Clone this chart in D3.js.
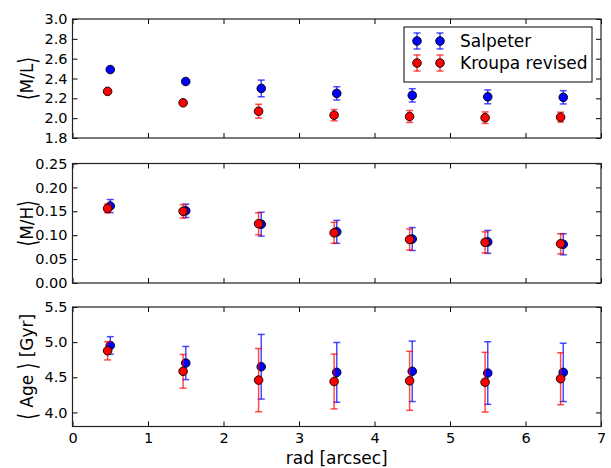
<!DOCTYPE html>
<html><head><meta charset="utf-8">
<script src="https://cdn.jsdelivr.net/npm/d3@7"></script>
<style>
body{margin:0;background:#fff;}
svg{display:block;font-family:"DejaVu Sans",sans-serif;}
</style></head><body>
<svg id="chart" width="611" height="468"></svg>
<script>
// ---- data ----
const radSal = [0.5, 1.5, 2.5, 3.5, 4.5, 5.5, 6.5];
const radKro = [0.465, 1.465, 2.465, 3.465, 4.465, 5.465, 6.465];

const mlSal    = [2.49, 2.37, 2.30, 2.25, 2.23, 2.215, 2.21];
const mlSalErr = [0.015, 0.02, 0.084, 0.067, 0.067, 0.07, 0.067];
const mlKro    = [2.27, 2.155, 2.07, 2.03, 2.017, 2.005, 2.01];
const mlKroErr = [0.01, 0.015, 0.07, 0.057, 0.06, 0.058, 0.05];

const mhSal    = [0.161, 0.151, 0.123, 0.107, 0.092, 0.086, 0.081];
const mhSalErr = [0.0136, 0.014, 0.025, 0.024, 0.024, 0.024, 0.022];
const mhKro    = [0.156, 0.150, 0.124, 0.105, 0.091, 0.085, 0.082];
const mhKroErr = [0.009, 0.014, 0.023, 0.022, 0.022, 0.022, 0.021];

const ageSal    = [4.953, 4.703, 4.65, 4.57, 4.585, 4.56, 4.57];
const ageSalErr = [0.125, 0.236, 0.46, 0.425, 0.43, 0.445, 0.415];
const ageKro    = [4.877, 4.585, 4.46, 4.44, 4.45, 4.43, 4.48];
const ageKroErr = [0.13, 0.24, 0.45, 0.39, 0.42, 0.425, 0.37];

const xTicks   = [0, 1, 2, 3, 4, 5, 6, 7];
const mlTicks  = [1.8, 2.0, 2.2, 2.4, 2.6, 2.8, 3.0];
const mhTicks  = [0.00, 0.05, 0.10, 0.15, 0.20, 0.25];
const ageTicks = [4.0, 4.5, 5.0, 5.5];

const seriesNames = ["Salpeter", "Kroupa revised"];
const seriesColors = ["#0000ff", "#ff0000"];

// ---- layout ----
const svg = d3.select("#chart");
const left = 72.5, right = 601;
const x = d3.scaleLinear().domain([0, 7]).range([left, right]);

const panels = [
  {top: 19, bottom: 138, domain: [1.8, 3.0], ticks: mlTicks, fmt: d3.format(".1f"),
   label: ["\u27E8", "M/L", "\u27E9"],
   series: [[radSal, mlSal, mlSalErr], [radKro, mlKro, mlKroErr]]},
  {top: 163.5, bottom: 283, domain: [0, 0.25], ticks: mhTicks, fmt: d3.format(".2f"),
   label: ["\u27E8", "M/H", "\u27E9"],
   series: [[radSal, mhSal, mhSalErr], [radKro, mhKro, mhKroErr]]},
  {top: 307, bottom: 426.5, domain: [3.8, 5.5], ticks: ageTicks, fmt: d3.format(".1f"),
   label: ["\u27E8", " Age ", "\u27E9", " [Gyr]"], xlabels: true,
   series: [[radSal, ageSal, ageSalErr], [radKro, ageKro, ageKroErr]]}
];

const tickLen = 5;

panels.forEach(p => {
  const y = d3.scaleLinear().domain(p.domain).range([p.bottom, p.top]);
  const g = svg.append("g");

  const ax = [
    g.append("g").attr("transform", `translate(0,${p.bottom})`)
      .call(d3.axisBottom(x).tickValues(xTicks).tickSizeInner(-tickLen).tickSizeOuter(0)
        .tickPadding(6).tickFormat(p.xlabels ? d3.format("d") : () => "")),
    g.append("g").attr("transform", `translate(0,${p.top})`)
      .call(d3.axisTop(x).tickValues(xTicks).tickSizeInner(-tickLen).tickSizeOuter(0).tickFormat(() => "")),
    g.append("g").attr("transform", `translate(${left},0)`)
      .call(d3.axisLeft(y).tickValues(p.ticks).tickSizeInner(-tickLen).tickSizeOuter(0)
        .tickPadding(5).tickFormat(p.fmt)),
    g.append("g").attr("transform", `translate(${right},0)`)
      .call(d3.axisRight(y).tickValues(p.ticks).tickSizeInner(-tickLen).tickSizeOuter(0).tickFormat(() => ""))
  ];
  ax.forEach(a => {
    a.select(".domain").remove();
    a.selectAll(".tick line").attr("stroke", "#000").attr("stroke-width", 1);
    a.selectAll(".tick text").attr("fill", "#000").style("font-size", "14.5px")
      .style("font-family", "'DejaVu Sans', sans-serif");
  });

  g.append("rect").attr("x", left).attr("y", p.top)
    .attr("width", right - left).attr("height", p.bottom - p.top)
    .attr("fill", "none").attr("stroke", "#222").attr("stroke-width", 1.2);

  // y label: pieces laid out along the rotated baseline, brackets stretched tall
  const lab = g.append("g")
    .attr("transform", `translate(27,${(p.top + p.bottom) / 2}) rotate(-90)`);
  const pieces = p.label.map(txt => {
    const isBr = txt === "\u27E8" || txt === "\u27E9";
    const el = lab.append("text").attr("dominant-baseline", "central")
      .style("font-size", "17px").attr("fill", "#000")
      .attr("xml:space", "preserve").style("white-space", "pre").text(txt);
    const w = el.node().getComputedTextLength();
    return {el, w, isBr};
  });
  const total = d3.sum(pieces, d => d.w);
  let cur = -total / 2;
  pieces.forEach(pc => {
    if (pc.isBr) pc.el.attr("transform", `translate(${cur},0) scale(1,1.5)`);
    else pc.el.attr("transform", `translate(${cur},0)`);
    cur += pc.w;
  });

  p.series.forEach((s, si) => {
    const [xs, ys, es] = s;
    const col = seriesColors[si];
    const data = xs.map((xv, i) => ({x: xv, y: ys[i], e: es[i]}));
    const eg = g.append("g").attr("stroke", col).attr("stroke-width", 1.5).attr("stroke-opacity", 0.7);
    data.forEach(d => {
      const cx = x(d.x), y0 = y(d.y - d.e), y1 = y(d.y + d.e);
      eg.append("line").attr("x1", cx).attr("x2", cx).attr("y1", y0).attr("y2", y1);
      eg.append("line").attr("x1", cx - 3.5).attr("x2", cx + 3.5).attr("y1", y0).attr("y2", y0);
      eg.append("line").attr("x1", cx - 3.5).attr("x2", cx + 3.5).attr("y1", y1).attr("y2", y1);
    });
    g.append("g").selectAll("circle").data(data).join("circle")
      .attr("cx", d => x(d.x)).attr("cy", d => y(d.y)).attr("r", 4.3)
      .attr("fill", col).attr("stroke", "#000").attr("stroke-width", 0.9);
  });
});

svg.append("text").attr("x", (left + right) / 2).attr("y", 464)
  .attr("text-anchor", "middle").style("font-size", "17px").attr("fill", "#000")
  .text("rad [arcsec]");

const lg = svg.append("g");
lg.append("rect").attr("x", 404).attr("y", 27).attr("width", 188).attr("height", 55)
  .attr("fill", "#fff").attr("stroke", "#000").attr("stroke-width", 1);
seriesNames.forEach((name, i) => {
  const cy = 41 + i * 22;
  [417, 440].forEach(mx => {
    const eg = lg.append("g").attr("stroke", seriesColors[i]).attr("stroke-width", 1.5).attr("stroke-opacity", 0.7);
    eg.append("line").attr("x1", mx).attr("x2", mx).attr("y1", cy - 8).attr("y2", cy + 8);
    eg.append("line").attr("x1", mx - 3.5).attr("x2", mx + 3.5).attr("y1", cy - 8).attr("y2", cy - 8);
    eg.append("line").attr("x1", mx - 3.5).attr("x2", mx + 3.5).attr("y1", cy + 8).attr("y2", cy + 8);
    lg.append("circle").attr("cx", mx).attr("cy", cy).attr("r", 4.3)
      .attr("fill", seriesColors[i]).attr("stroke", "#000").attr("stroke-width", 0.9);
  });
  lg.append("text").attr("x", 460).attr("y", cy + 6).style("font-size", "17px")
    .attr("fill", "#000").text(name);
});
</script>
</body></html>
